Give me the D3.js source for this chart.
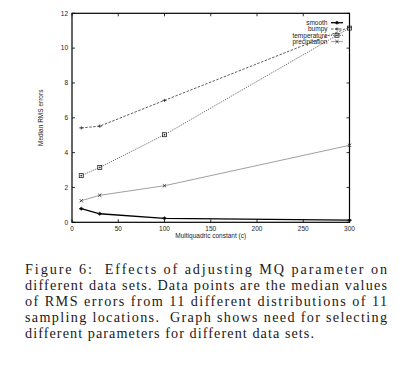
<!DOCTYPE html>
<html><head><meta charset="utf-8">
<script src="https://cdn.jsdelivr.net/npm/d3@7"></script>
<style>body{margin:0;background:#fff}svg{display:block}</style>
</head><body>
<svg id="c" width="404" height="365"></svg>
<script>
const xValues = [10, 30, 100, 300];
const smooth = [0.78, 0.49, 0.23, 0.12];
const bumpy = [5.42, 5.52, 7.0, 11.2];
const temperature = [2.68, 3.15, 5.03, 11.15];
const precipitation = [1.24, 1.55, 2.1, 4.42];
const seriesNames = ["smooth", "bumpy", "temperature", "precipitation"];
const xTicks = [0, 50, 100, 150, 200, 250, 300];
const yTicks = [0, 2, 4, 6, 8, 10, 12];
const xTitle = "Multiquadric constant (c)";
const yTitle = "Median RMS errors";
const captionLines = [
  "Figure 6:  Effects of adjusting MQ parameter on",
  "different data sets. Data points are the median values",
  "of RMS errors from 11 different distributions of 11",
  "sampling locations.  Graph shows need for selecting",
  "different parameters for different data sets."
];

const svg = d3.select("#c");
const L = 72, R = 349.5, T = 13.3, B = 222.3;
const x = d3.scaleLinear().domain([0, 300]).range([L, R]);
const y = d3.scaleLinear().domain([0, 12]).range([B, T]);
const font = "Liberation Sans, Arial, sans-serif";

// ticks (mirrored, inward)
const tl = 3;
const g = svg.append("g").attr("stroke", "#000").attr("stroke-width", 0.8);
xTicks.forEach(t => {
  g.append("line").attr("x1", x(t)).attr("x2", x(t)).attr("y1", B).attr("y2", B - tl);
  g.append("line").attr("x1", x(t)).attr("x2", x(t)).attr("y1", T).attr("y2", T + tl);
});
yTicks.forEach(t => {
  g.append("line").attr("x1", L).attr("x2", L + tl).attr("y1", y(t)).attr("y2", y(t));
  g.append("line").attr("x1", R).attr("x2", R - tl).attr("y1", y(t)).attr("y2", y(t));
});
svg.append("rect").attr("x", L).attr("y", T).attr("width", R - L).attr("height", B - T)
  .attr("fill", "none").attr("stroke", "#000").attr("stroke-width", 1.2);

const tg = svg.append("g").attr("font-family", font).attr("font-size", 6.5).attr("fill", "#222");
xTicks.forEach(t => tg.append("text").attr("x", x(t)).attr("y", B + 9).attr("text-anchor", "middle").text(t));
yTicks.forEach(t => tg.append("text").attr("x", L - 4).attr("y", y(t) + 2.3).attr("text-anchor", "end").text(t));
tg.append("text").attr("x", (L + R) / 2).attr("y", B + 16).attr("text-anchor", "middle").text(xTitle);
tg.append("text").attr("transform", `translate(43,${(T + B) / 2}) rotate(-90)`).attr("text-anchor", "middle").text(yTitle);

const styles = {
  smooth: {data: smooth, stroke: "#000", dash: null, w: 1.3, marker: "diamond"},
  bumpy: {data: bumpy, stroke: "#333", dash: "2.5,1.5", w: 0.8, marker: "plus"},
  temperature: {data: temperature, stroke: "#444", dash: "1,1.2", w: 0.9, marker: "square"},
  precipitation: {data: precipitation, stroke: "#a0a0a0", dash: null, w: 1, marker: "cross"}
};
const line = d3.line().x(d => x(d[0])).y(d => y(d[1]));

function marker(sel, type, cx, cy) {
  const m = sel.append("g").attr("transform", `translate(${cx},${cy})`).attr("stroke", "#222").attr("stroke-width", 0.8).attr("fill", "none");
  if (type === "plus") {
    m.append("path").attr("d", "M-2,0H2M0,-1.6V1.6");
  } else if (type === "cross") {
    m.append("path").attr("d", "M-1.6,-1.6L1.6,1.6M-1.6,1.6L1.6,-1.6");
  } else if (type === "square") {
    m.append("rect").attr("x", -2).attr("y", -2).attr("width", 4).attr("height", 4);
    m.append("path").attr("d", "M-1,0H1M0,-1V1").attr("stroke-width", 0.6);
  } else {
    m.append("path").attr("d", "M-2,0L0,-1.5L2,0L0,1.5Z").attr("fill", "#000");
  }
}

seriesNames.forEach(name => {
  const s = styles[name];
  const pts = xValues.map((xv, i) => [xv, s.data[i]]);
  svg.append("path").attr("d", line(pts)).attr("fill", "none").attr("stroke", s.stroke)
    .attr("stroke-width", s.w).attr("stroke-dasharray", s.dash);
  pts.forEach(p => marker(svg, s.marker, x(p[0]), y(p[1])));
});

// legend
const lg = svg.append("g").attr("font-family", font).attr("font-size", 6.5).attr("fill", "#222");
seriesNames.forEach((name, i) => {
  const s = styles[name];
  const yy = 22.7 + i * 6.3;
  lg.append("text").attr("x", 327.5).attr("y", yy + 2.2).attr("text-anchor", "end").text(name);
  lg.append("line").attr("x1", 331).attr("x2", 343).attr("y1", yy).attr("y2", yy)
    .attr("stroke", s.stroke).attr("stroke-width", s.w).attr("stroke-dasharray", s.dash);
  marker(lg, s.marker, 337, yy);
});

// caption
const cg = svg.append("g").attr("font-family", "Liberation Serif, DejaVu Serif, serif").attr("font-size", 14.2).attr("fill", "#1a1a1a");
const lens = [362, 362, 362, 362, 289];
captionLines.forEach((t, i) => {
  cg.append("text").attr("x", 25).attr("y", 274 + i * 16.1).attr("xml:space", "preserve")
    .attr("textLength", lens[i]).attr("lengthAdjust", "spacing").text(t);
});
</script>
</body></html>
